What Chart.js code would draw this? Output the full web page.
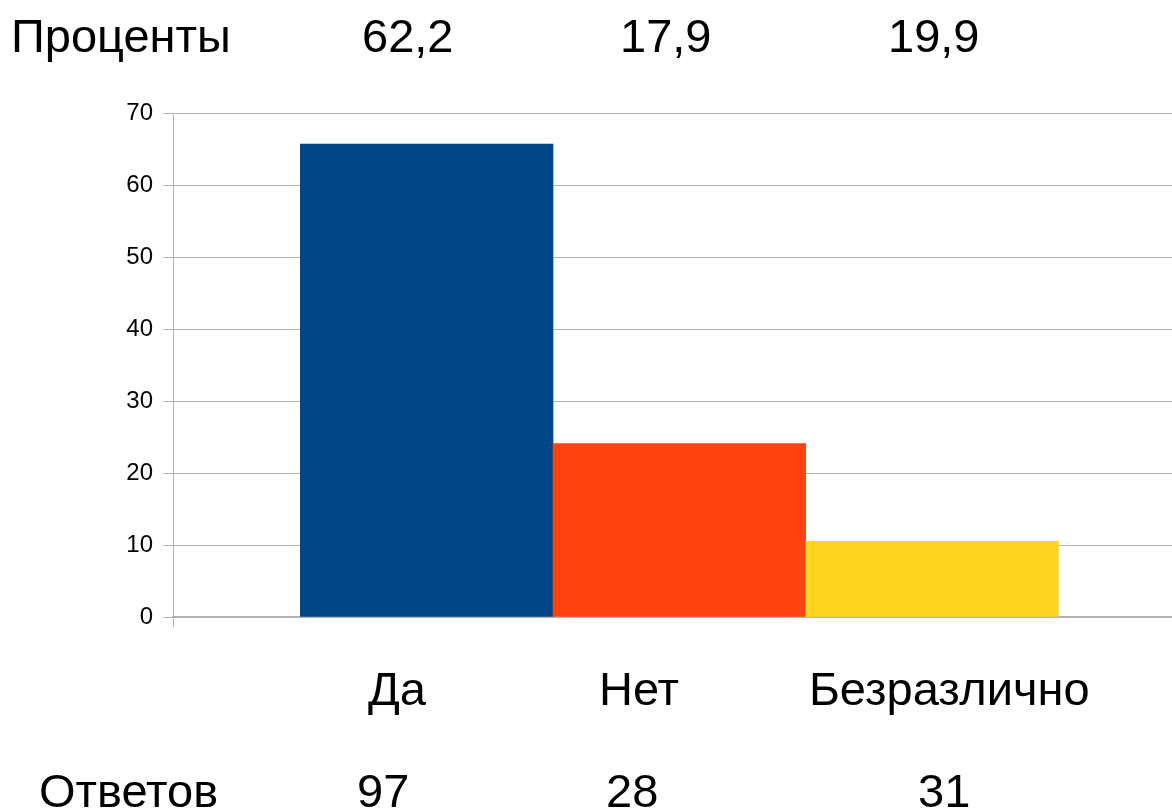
<!DOCTYPE html>
<html>
<head>
<meta charset="utf-8">
<script src="https://cdn.jsdelivr.net/npm/chart.js@4"></script>
<style>
  html, body { margin: 0; padding: 0; background: #fff; overflow: hidden; }
  #wrap { position: relative; width: 1172px; height: 812px; }
  #chart { position: absolute; left: 0; top: 0; }
  .lbl {
    position: absolute;
    font-family: "Liberation Sans", Arial, sans-serif;
    font-size: 47px;
    line-height: 47px;
    color: #000;
    white-space: nowrap;
  }
</style>
</head>
<body>
<div id="wrap">
  <canvas id="chart" width="1172" height="812"></canvas>
  <div class="lbl" style="left:11px; top:12px;">Проценты</div>
  <div class="lbl" style="left:362px; top:12px;" id="pct0"></div>
  <div class="lbl" style="left:620px; top:12px;" id="pct1"></div>
  <div class="lbl" style="left:888px; top:12px;" id="pct2"></div>
  <div class="lbl" style="left:368px; top:665px;" id="cat0"></div>
  <div class="lbl" style="left:599px; top:665px;" id="cat1"></div>
  <div class="lbl" style="left:809px; top:665px;" id="cat2"></div>
  <div class="lbl" style="left:39px; top:767px;">Ответов</div>
  <div class="lbl" style="left:357px; top:767px;" id="cnt0"></div>
  <div class="lbl" style="left:606px; top:767px;" id="cnt1"></div>
  <div class="lbl" style="left:918px; top:767px;" id="cnt2"></div>
</div>
<script>
// Survey answers chart

const categories = ['Да', 'Нет', 'Безразлично'];
const barValues = [65.7, 24.1, 10.5];
const percents = ['62,2', '17,9', '19,9'];
const answers = ['97', '28', '31'];
const barColors = ['#004586', '#ff420e', '#ffd320'];
const yTicks = [0, 10, 20, 30, 40, 50, 60, 70];

// Fill the text rows
categories.forEach((c, i) => {
  document.getElementById('cat' + i).textContent = c;
  document.getElementById('pct' + i).textContent = percents[i];
  document.getElementById('cnt' + i).textContent = answers[i];
});

const gridColor = '#b3b3b3';

const ctx = document.getElementById('chart').getContext('2d');
new Chart(ctx, {
  type: 'bar',
  data: {
    datasets: [{
      label: 'Ответы',
      data: barValues.map((v, i) => ({ x: i + 1, y: v })),
      backgroundColor: barColors,
      borderWidth: 0,
      barPercentage: 1,
      categoryPercentage: 1
    }]
  },
  options: {
    responsive: false,
    animation: false,
    layout: {
      padding: { top: 113, bottom: 185, left: 0, right: 0 }
    },
    plugins: {
      legend: { display: false },
      tooltip: { enabled: false }
    },
    scales: {
      x: {
        type: 'linear',
        min: -0.004,
        max: 3.95,
        offset: false,
        afterBuildTicks: function(scale) {
          // only the tick at the axis origin
          scale.ticks = [{ value: -0.004 }];
        },
        ticks: { display: false },
        grid: {
          offset: false,
          drawOnChartArea: false,
          drawTicks: true,
          tickLength: 10,
          color: gridColor
        },
        border: { color: gridColor, width: 2 }
      },
      y: {
        min: 0,
        max: 70,
        afterBuildTicks: function(scale) {
          scale.ticks = yTicks.map(v => ({ value: v }));
        },
        afterFit: function(scale) {
          scale.width = 173;
        },
        ticks: {
          padding: 10,
          color: '#000',
          font: { family: '"Liberation Sans", Arial, sans-serif', size: 24 }
        },
        grid: {
          color: gridColor,
          lineWidth: 1,
          tickLength: 10
        },
        border: { color: gridColor, width: 1 }
      }
    }
  }
});
</script>
</body>
</html>
